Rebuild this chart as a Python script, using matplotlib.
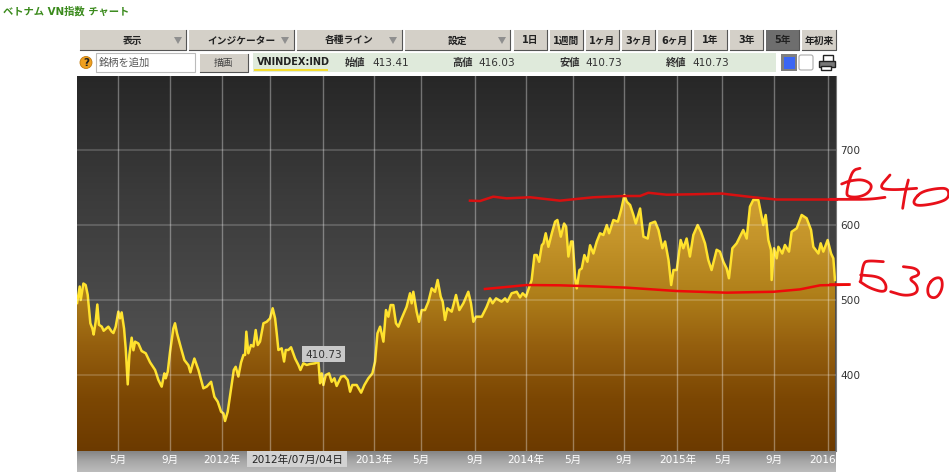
import numpy as np
import matplotlib
matplotlib.use("Agg")
import matplotlib.pyplot as plt
from matplotlib.colors import LinearSegmentedColormap
from matplotlib.patches import Rectangle, Circle, Polygon, PathPatch, FancyBboxPatch
from matplotlib.path import Path
from matplotlib.transforms import Affine2D

plt.rcParams['font.family'] = ['DejaVu Sans', 'Noto Sans CJK JP']

# chart position in months from January 2011
t = [0.56,0.77,0.85,1.06,1.24,1.40,1.61,1.77,1.87,2.03,2.16,2.29,2.51,2.66,3.03,3.29,3.43,3.61,3.82,3.95,4.08,4.27,4.40,4.56,4.69,4.87,5.01,5.14,5.40,5.66,5.98,6.32,6.72,6.98,7.24,7.45,7.56,7.72,7.90,8.16,8.29,8.45,8.77,9.03,9.35,9.51,9.66,9.82,10.14,10.53,10.79,11.14,11.40,11.66,11.93,12.11,12.24,12.45,12.72,12.93,
     13.08,13.29,13.50,13.69,13.82,13.92,14.08,14.29,14.48,14.66,14.82,15.0,15.27,15.53,15.79,16.0,16.19,16.32,16.45,16.71,16.9,17.03,17.24,17.45,17.77,18.03,18.19,18.42,18.69,18.95,19.34,19.61,19.74,19.87,20.0,20.19,20.45,20.66,20.87,21.05,21.4,21.66,21.92,22.11,22.29,22.63,22.98,23.24,23.55,23.87,24.08,24.27,24.48,24.74,
     24.94,25.13,25.31,25.52,25.73,25.92,26.18,26.57,26.84,26.97,27.1,27.36,27.55,27.76,28.02,28.29,28.55,28.81,29.02,29.26,29.42,29.6,29.79,30.13,30.47,30.73,31.05,31.44,31.65,31.84,32.05,32.5,32.89,33.15,33.36,33.63,34.07,34.34,34.52,34.86,35.26,35.52,35.73,35.99,36.26,36.44,36.66,
     36.84,37.03,37.24,37.37,37.55,37.76,38.03,38.29,38.47,38.74,39.0,39.16,39.34,39.55,39.68,39.87,40.0,40.21,40.39,40.6,40.84,41.05,41.31,41.58,41.84,42.1,42.37,42.55,42.89,43.24,43.5,43.76,43.95,44.21,44.47,44.66,45.0,45.26,45.6,45.79,46.18,46.45,46.76,46.97,47.24,47.45,47.63,47.89,
     48.2,48.41,48.67,48.93,49.2,49.54,49.8,50.12,50.38,50.64,51.04,51.3,51.57,51.83,52.01,52.28,52.62,53.14,53.41,53.67,53.93,54.33,54.54,54.72,54.91,55.12,55.33,55.38,55.57,55.78,55.91,56.22,56.43,56.75,56.96,57.36,57.75,58.14,58.49,58.67,59.07,59.25,59.46,59.8,60.07,60.25,60.38]
close = [496,518,500,522,520,507,469,462,454,471,494,467,464.5,459,464.5,458,456,464.5,484.5,475.6,483.5,462,435.5,387.5,426.7,449.8,433,444.5,442,432,429,417,406.7,393.4,384.5,402.2,395.6,404.5,431,462,469,455.6,435.6,420,413,403.6,413,422,406.7,382.3,384.5,391,371,364.5,351,349,338.7,351,382,406.7,
     411,398,416.5,426.7,426.7,457.8,429,440,438,460,440,444.5,469,471,475.6,489,475.6,455.6,433.4,435.6,418,433.4,433.4,437,422,413.4,406.7,415.6,413.4,414.7,415.6,417.8,389,402.2,386.7,400,402.2,391,395.6,385.4,397.8,398.7,393.4,377.8,386.7,386.7,376.5,386.7,395.6,402.2,417.8,455.6,464.5,444.5,
     486.6,477.8,493.3,493.3,469,464.5,475.6,491,509,495.6,511,484.5,471,486.6,486.6,497.8,515.6,511,526.7,504.5,497.8,473.4,489,484.5,506.7,486.6,495.6,511,495.6,471,477.8,477.8,491,502.2,495.6,502.2,497.8,502.2,497.8,509,511,503.5,509,504.5,517.8,526.7,560,
     560,551,573,575.6,589,571,589,604.5,606.7,584.5,602,597.8,558,578,578,529,515.6,540,542,560,551,573,562,578,589,586.7,600,589,606.7,604.5,620,640,631,626.7,613.4,602,622,584.5,582,602,604.5,593.4,569,578,553.4,520,540,540,
     580,569,582,558,586.7,600,591,575.6,553.4,540,567,564.5,551,542,529,569,575.6,593.4,582,624.5,633.4,633.4,615.6,600,613.4,580,566.7,526.7,569,555.6,571,562,573.4,564.5,591,595.6,613.4,609,593.4,571,562,575.6,564.5,580,562,555.6,526.7]

x_tick_pos = [3.8,7.9,12,15.8,20,24,27.7,31.95,36,39.7,43.75,47.95,51.5,55.6,59.8]
# the two labels under the date flag are hidden in the reference
x_tick_lab = ['5月','9月','2012年','','','2013年','5月','9月','2014年','5月','9月','2015年','5月','9月','2016年']
y_ticks = [400,500,600,700]

# hand-drawn red lines
upper_t = [31.57,32.36,33.41,34.46,36.31,38.67,41.31,43.67,44.99,45.65,47.1,49.2,51.44,53.94,55.78,60.52]
upper_v = [632.5,632,637.8,635.6,637,632.5,637,638.7,638.7,643,640.4,641,642,637,634,634]
lower_t = [32.75,34.2,36.04,38.67,41.31,43.94,47.89,51.83,55.52,57.62,59.2,61.44]
lower_v = [514.7,517,520,519.6,518.2,516.5,512,509.8,511,514.2,519.6,520.5]

# hand-written annotations, in reference pixels x3 measured from (830,160)
ink_strokes = [
    [(0,118),(50,118),(120,118),(165,112)],
    [(90,25),(70,30),(58,60),(50,95),(52,110),(85,112),(115,100),(128,75),(100,58),(60,62),(35,72)],
    [(180,45),(145,85),(190,90),(260,85)],
    [(235,60),(225,100),(218,145)],
    [(255,115),(275,95),(320,85),(355,85),(357,115),(320,130),(265,138),(250,130),(255,115)],
    [(160,305),(115,302),(100,308),(92,365)],
    [(92,345),(150,350),(170,375),(165,398),(120,385),(90,365)],
    [(220,320),(260,325),(270,345),(235,355),(262,375),(262,400),(225,408),(182,395)],
    [(310,355),(292,380),(295,410),(320,415),(338,385),(335,352),(310,355)],
]

menus = ['表示','インジケーター','各種ライン','設定']
ranges = ['1日','1週間','1ヶ月','3ヶ月','6ヶ月','1年','3年','5年','年初来']

W, H = 949, 472
fig = plt.figure(figsize=(W/100, H/100), dpi=100, facecolor='white')

bg = fig.add_axes([0, 0, 1, 1], zorder=0)
bg.axis('off')
bar = LinearSegmentedColormap.from_list('bar', ['#858585', '#a8a8a8', '#bcbcbc'], N=512)
bg.imshow(np.linspace(0, 1, 64)[:, None], cmap=bar, aspect='auto', extent=(77, 836, 472, 451), origin='upper')
bg.set_xlim(0, W); bg.set_ylim(H, 0)

ax = fig.add_axes([77/W, (H-451)/H, 759/W, 375/H], zorder=1)
xmin, xmax, ymin, ymax = 0.556, 60.46, 298.7, 798.7
sky = LinearSegmentedColormap.from_list('sky', ['#272727', '#3c3c3c', '#4d4d4d', '#555555'], N=1024)
ax.imshow(np.linspace(0, 1, 600)[:, None], cmap=sky, aspect='auto', extent=(xmin, xmax, ymin, ymax), origin='upper',
          zorder=0, interpolation='bilinear')
gold = LinearSegmentedColormap.from_list('gold', ['#d2a233', '#c4942a', '#b0801a', '#955f0e', '#7c4703', '#6c3a00'], N=1024)
im = ax.imshow(np.linspace(0, 1, 600)[:, None], cmap=gold, aspect='auto', extent=(xmin, xmax, ymin, 650), origin='upper',
               zorder=1, interpolation='bilinear')
verts = [(t[0], ymin)] + list(zip(t, close)) + [(t[-1], ymin)]
clip = PathPatch(Path(verts + [verts[0]], closed=True), transform=ax.transData, fc='none', ec='none')
ax.add_patch(clip)
im.set_clip_path(clip)
ax.plot(t, close, color='#ffe22e', lw=1.8, solid_joinstyle='round', zorder=2)
ax.set_xlim(xmin, xmax); ax.set_ylim(ymin, ymax)
ax.set_xticks(x_tick_pos, x_tick_lab)
ax.set_yticks(y_ticks)
ax.yaxis.tick_right()
ax.tick_params(axis='x', length=0, pad=3, labelsize=7.6, labelcolor='white')
ax.tick_params(axis='y', length=0, pad=3, labelsize=7.6, labelcolor='#333333')
ax.grid(True, axis='x', color='white', alpha=0.35, lw=1, zorder=3)
ax.grid(True, axis='y', color='white', alpha=0.2, lw=1.2, zorder=3)
ax.set_axisbelow(False)
for s in ax.spines.values():
    s.set_visible(False)
ax.spines['right'].set_visible(True)
ax.spines['right'].set_color('#777777')
ax.plot(upper_t, upper_v, color='#d81010', lw=1.8, clip_on=False, zorder=5)
ax.plot(lower_t, lower_v, color='#ee0a0a', lw=1.8, clip_on=False, zorder=5)

ui = fig.add_axes([0, 0, 1, 1], zorder=2)
ui.axis('off'); ui.patch.set_alpha(0)
ui.set_xlim(0, W); ui.set_ylim(H, 0)

def rect(x0, y0, x1, y1, fc, ec='none', lw=0.8, z=1):
    ui.add_patch(Rectangle((x0, y0), x1-x0, y1-y0, fc=fc, ec=ec, lw=lw, zorder=z))

def txt(x, y, s, size=7.6, color='#222222', ha='left', weight='normal', **k):
    ui.text(x, y, s, fontsize=size, color=color, ha=ha, va='center', fontweight=weight, zorder=4, **k)

def smooth(points, rounds=3):
    p = np.array(points, float)
    closed = np.allclose(p[0], p[-1])
    for _ in range(rounds):
        q = np.empty((2*len(p)-2, 2))
        q[0::2] = 0.75*p[:-1] + 0.25*p[1:]
        q[1::2] = 0.25*p[:-1] + 0.75*p[1:]
        if closed:
            q = np.vstack([q, q[0]])
        else:
            q = np.vstack([p[0], q, p[-1]])
        p = q
    return p

txt(3, 12, 'ベトナム VN指数 チャート', size=7.4, color='#3a8a1c', weight='bold')

menu_edges = [(80,186),(189,294),(297,402),(405,510)]
tri_x = [178,285,393,502]
for (a, b), lab, tx in zip(menu_edges, menus, tri_x):
    rect(a, 30, b, 50, '#d4d0c8')
    ui.plot([a, b, b], [50, 50, 30], color='#555555', lw=0.8, zorder=2)
    txt((a+b)/2, 40.5, lab, size=7, color='#222222', ha='center', weight='bold')
    ui.add_patch(Polygon([(tx-4, 37), (tx+4, 37), (tx, 44)], fc='#8f8f8f', ec='none', zorder=3))

range_edges = [(514,547),(550,583),(586,619),(622,655),(658,691),(694,727),(730,763),(766,799),(802,836)]
for (a, b), lab in zip(range_edges, ranges):
    on = lab == '5年'
    rect(a, 30, b, 50, '#6e6e6e' if on else '#d4d0c8')
    ui.plot([a, b, b], [50, 50, 30], color='#555555', lw=0.8, zorder=2)
    txt((a+b)/2, 40.5, lab, size=7, color='#222222', ha='center', weight='bold')

ui.add_patch(Circle((86, 62.5), 6, fc='#f0a020', ec='#c07a10', lw=0.6, zorder=2))
txt(86, 62.5, '?', size=7.5, color='#222222', ha='center', weight='bold')
rect(96, 53, 195, 72, 'white', ec='#bbbbbb')
txt(99, 62.5, '銘柄を追加', size=7.4, color='#555555')
rect(200, 54, 248, 72, '#d4d0c8')
ui.plot([200, 248, 248], [72, 72, 54], color='#555555', lw=0.8, zorder=2)
txt(224, 63, '描画', size=7, color='#444444', ha='center')
rect(253, 53, 776, 72, '#dfeadb')
txt(257, 62, 'VNINDEX:IND', size=7, color='#222222', weight='bold')
rect(254, 68.5, 328, 71, '#f4dc30')
for x, s in [(345, '始値'), (452, '高値'), (559, '安値'), (666, '終値')]:
    txt(x, 62.5, s, size=7.4, color='#333333', weight='bold')
for x, s in [(372, '413.41'), (478, '416.03'), (585, '410.73'), (692, '410.73')]:
    txt(x, 62.5, s, color='#333333')

rect(781, 54, 797, 71, '#7f7f7f')
rect(784, 57, 795, 69, '#3a66f5')
ui.add_patch(FancyBboxPatch((799, 55), 14, 15, boxstyle='round,pad=0,rounding_size=2', fc='white', ec='#aaaaaa', lw=0.8, zorder=2))
rect(823, 55, 833, 62, 'white', ec='#222222', lw=1, z=2)
rect(819, 61, 835, 67, '#777777', ec='#222222', lw=1, z=2)
rect(821, 66, 831, 70, 'white', ec='#222222', lw=1, z=2)

rect(302, 346, 345, 362, '#c9c9c9', z=3)
txt(323.5, 354.5, '410.73', color='#333333', ha='center')
rect(247, 451, 347, 467, '#d2d2d2', z=3)
txt(297, 459.5, '2012年/07月/04日', color='#222222', ha='center')

ink = Affine2D().scale(1/3, -1/3).translate(830, H-160)
for stroke in ink_strokes:
    p = smooth(stroke)
    ui.plot(p[:, 0], p[:, 1], color='#e8101a', lw=2, transform=ink,
            solid_joinstyle='round', solid_capstyle='round', zorder=6, clip_on=False)
ui.plot([830, 849], [284, 284], color='#ee0a0a', lw=1.8, zorder=6)
ui.set_xlim(0, W); ui.set_ylim(H, 0)

fig.savefig('out.png', dpi=100)
